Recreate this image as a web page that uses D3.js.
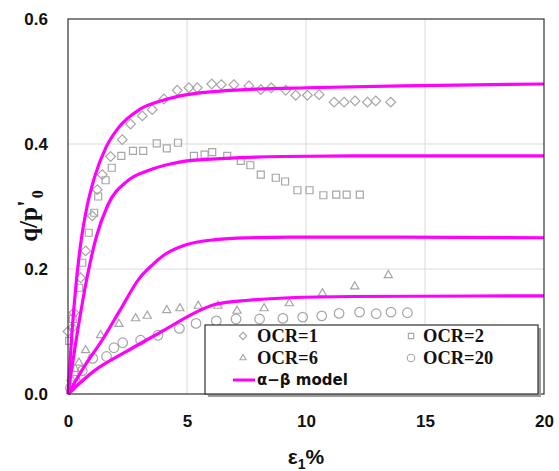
<!DOCTYPE html>
<html>
<head>
<meta charset="utf-8">
<script src="https://cdn.jsdelivr.net/npm/d3@7"></script>
<style>
  html, body { margin: 0; padding: 0; background: #fff; }
  svg { display: block; }
</style>
</head>
<body>
<svg id="chart" width="559" height="471"></svg>
<script>
// Triaxial test data: stress ratio q/p'0 against axial strain (%)
const ocr1 = [[0.0,0.10],[0.18,0.106],[0.25,0.13],[0.53,0.186],[0.74,0.229],[1.02,0.285],[1.23,0.327],[1.44,0.351],[1.79,0.38],[2.28,0.407],[2.63,0.432],[3.12,0.445],[3.54,0.455],[4.03,0.472],[4.59,0.486],[5.08,0.49],[5.43,0.49],[6.04,0.496],[6.44,0.495],[6.97,0.495],[7.6,0.493],[8.1,0.487],[8.54,0.49],[9.15,0.486],[9.57,0.478],[10.06,0.478],[10.55,0.479],[11.18,0.467],[11.6,0.467],[12.06,0.469],[12.58,0.467],[12.93,0.469],[13.56,0.467]];
const ocr2 = [[0.05,0.085],[0.2,0.12],[0.47,0.17],[0.6,0.21],[0.87,0.258],[1.1,0.29],[1.27,0.316],[1.58,0.342],[1.84,0.362],[2.24,0.381],[2.73,0.389],[3.16,0.389],[3.73,0.401],[4.15,0.393],[4.62,0.402],[5.29,0.381],[5.74,0.383],[6.06,0.387],[6.69,0.381],[7.26,0.373],[7.66,0.366],[8.1,0.351],[8.73,0.346],[9.12,0.34],[9.64,0.326],[10.15,0.326],[10.73,0.318],[11.27,0.319],[11.71,0.319],[12.26,0.319]];
const ocr6 = [[0.12,0.025],[0.3,0.04],[0.46,0.05],[0.74,0.07],[1.37,0.094],[2.14,0.112],[2.84,0.121],[3.33,0.125],[4.15,0.134],[4.7,0.137],[5.47,0.141],[6.3,0.141],[7.1,0.133],[8.24,0.137],[9.3,0.145],[10.69,0.161],[12.05,0.172],[13.46,0.19]];
const ocr20 = [[0.1,0.01],[0.3,0.022],[0.6,0.037],[1.04,0.057],[1.62,0.06],[1.93,0.074],[2.3,0.082],[3.05,0.086],[3.78,0.094],[4.68,0.105],[5.38,0.113],[6.23,0.117],[7.06,0.12],[8.05,0.12],[9.03,0.121],[9.86,0.123],[10.66,0.125],[11.39,0.129],[12.25,0.131],[12.95,0.1285],[13.57,0.131],[14.26,0.13]];

// α–β model predictions for each OCR
const model1 = [[0,0],[0.15,0.09],[0.35,0.18],[0.55,0.245],[0.8,0.3],[1.1,0.345],[1.6,0.395],[2.1,0.425],[3.0,0.455],[4.0,0.47],[5.0,0.479],[6.5,0.485],[8,0.488],[10,0.49],[14,0.493],[20,0.496]];
const model2 = [[0,0],[0.4,0.1],[0.82,0.19],[1.18,0.25],[1.67,0.302],[2.5,0.341],[3.4,0.358],[4.3,0.368],[5,0.373],[6.6,0.377],[9,0.38],[12,0.381],[20,0.381]];
const model3 = [[0,0],[0.7,0.045],[1.5,0.09],[2.2,0.135],[3.0,0.185],[3.5,0.205],[4.1,0.224],[4.9,0.238],[6.2,0.247],[7.6,0.25],[9.3,0.251],[14,0.251],[20,0.25]];
const model4 = [[0,0],[1.1,0.037],[2.5,0.069],[4.1,0.1035],[5.2,0.1275],[6.2,0.1435],[7.6,0.15],[9.3,0.154],[12,0.156],[20,0.157]];

const xTicks = [0, 5, 10, 15, 20];
const yTicks = [0.0, 0.2, 0.4, 0.6];
const legendLabels = ["OCR=1", "OCR=2", "OCR=6", "OCR=20", "α−β model"];

const svg = d3.select("#chart");
const plotL = 68, plotT = 19, plotR = 544, plotB = 394;

const x = d3.scaleLinear().domain([0, 20]).range([plotL, plotR]);
const y = d3.scaleLinear().domain([0, 0.6]).range([plotB, plotT]);

const markerColor = "#a6a6a6";
const modelColor = "#ff00ff";

// gridlines
const grid = svg.append("g");
grid.selectAll("line.gx").data(xTicks.slice(1, -1)).join("line")
  .attr("x1", d => x(d)).attr("x2", d => x(d))
  .attr("y1", plotT).attr("y2", plotB)
  .attr("stroke", "#dadada").attr("stroke-width", 1);
grid.selectAll("line.gy").data(yTicks.slice(1, -1)).join("line")
  .attr("x1", plotL).attr("x2", plotR)
  .attr("y1", d => y(d)).attr("y2", d => y(d))
  .attr("stroke", "#dadada").attr("stroke-width", 1);

// axes (ticks as labels only)
const xAxis = d3.axisBottom(x).tickValues(xTicks).tickSize(0).tickPadding(0)
  .tickFormat(d3.format("d"));
const gx = svg.append("g").attr("transform", `translate(0,${plotB})`).call(xAxis);
gx.select(".domain").remove();
gx.selectAll("text").attr("dy", null).attr("y", 33)
  .attr("font-family", "Liberation Sans, Arial, sans-serif")
  .attr("font-weight", "bold").attr("font-size", 17).attr("fill", "#111");

const yAxis = d3.axisLeft(y).tickValues(yTicks).tickSize(0).tickPadding(0)
  .tickFormat(d3.format(".1f"));
const gy = svg.append("g").attr("transform", `translate(${plotL},0)`).call(yAxis);
gy.select(".domain").remove();
gy.selectAll("text").attr("x", -20).attr("dy", "0.35em")
  .attr("font-family", "Liberation Sans, Arial, sans-serif")
  .attr("font-weight", "bold").attr("font-size", 17).attr("fill", "#111");

// markers
const sym = {
  diamond: d3.symbol().type(d3.symbolDiamond2).size(60),
  square: d3.symbol().type(d3.symbolSquare2).size(62),
  triangle: d3.symbol().type(d3.symbolTriangle2).size(48),
  circle: d3.symbol().type(d3.symbolCircle).size(72)
};
function drawMarkers(data, shape) {
  svg.append("g").selectAll("path").data(data).join("path")
    .attr("d", sym[shape])
    .attr("transform", d => `translate(${x(d[0])},${y(d[1])})`)
    .attr("fill", "none").attr("stroke", markerColor).attr("stroke-width", 1.2);
}
drawMarkers(ocr1, "diamond");
drawMarkers(ocr2, "square");
drawMarkers(ocr6, "triangle");
drawMarkers(ocr20, "circle");

// model curves
const line = d3.line().x(d => x(d[0])).y(d => y(d[1])).curve(d3.curveMonotoneX);
[model1, model2, model3, model4].forEach(m => {
  svg.append("path").datum(m).attr("d", line)
    .attr("fill", "none").attr("stroke", modelColor).attr("stroke-width", 3.2)
    .attr("stroke-linejoin", "round");
});

// plot frame
svg.append("rect").attr("x", plotL).attr("y", plotT)
  .attr("width", plotR - plotL).attr("height", plotB - plotT)
  .attr("fill", "none").attr("stroke", "#333").attr("stroke-width", 1.2);

// legend
const lg = svg.append("g");
const lx = 205, ly = 325, lw = 333, lh = 69;
lg.append("rect").attr("x", lx + 3).attr("y", ly + 3).attr("width", lw).attr("height", lh)
  .attr("fill", "#9a9a9a");
lg.append("rect").attr("x", lx).attr("y", ly).attr("width", lw).attr("height", lh)
  .attr("fill", "#fff").attr("stroke", "#333").attr("stroke-width", 1.2);

const legendItems = [
  { label: legendLabels[0], shape: "diamond", mx: 243, my: 336, tx: 257, ty: 342 },
  { label: legendLabels[1], shape: "square", mx: 411, my: 336, tx: 423, ty: 342 },
  { label: legendLabels[2], shape: "triangle", mx: 243, my: 358, tx: 257, ty: 364 },
  { label: legendLabels[3], shape: "circle", mx: 411, my: 358, tx: 423, ty: 364 }
];
const legSym = {
  diamond: d3.symbol().type(d3.symbolDiamond2).size(36),
  square: d3.symbol().type(d3.symbolSquare2).size(36),
  triangle: d3.symbol().type(d3.symbolTriangle2).size(28),
  circle: d3.symbol().type(d3.symbolCircle).size(44)
};
legendItems.forEach(it => {
  lg.append("path").attr("d", legSym[it.shape])
    .attr("transform", `translate(${it.mx},${it.my})`)
    .attr("fill", "none").attr("stroke", markerColor).attr("stroke-width", 1.1);
  lg.append("text").attr("x", it.tx).attr("y", it.ty).text(it.label)
    .attr("font-family", "Liberation Serif, Times New Roman, serif")
    .attr("font-weight", "bold").attr("font-size", 18.5).attr("fill", "#111");
});
lg.append("line").attr("x1", 233).attr("x2", 255).attr("y1", 380).attr("y2", 380)
  .attr("stroke", modelColor).attr("stroke-width", 3);
lg.append("text").attr("x", 257).attr("y", 385).text(legendLabels[4])
  .attr("font-family", "DejaVu Sans, sans-serif")
  .attr("font-weight", "bold").attr("font-size", 15).attr("fill", "#111");

// axis titles
const yt = svg.append("text")
  .attr("transform", "translate(37,216) rotate(-90)")
  .attr("text-anchor", "middle")
  .attr("font-family", "Liberation Serif, Times New Roman, serif")
  .attr("font-weight", "bold").attr("font-size", 25).attr("fill", "#111");
yt.append("tspan").text("q/p");
yt.append("tspan").attr("dy", -2).text("'");
yt.append("tspan").attr("font-size", 16).attr("dy", 8).attr("dx", 2).text("0");

const xt = svg.append("text")
  .attr("x", 306).attr("y", 464)
  .attr("text-anchor", "middle")
  .attr("font-family", "Liberation Sans, Arial, sans-serif")
  .attr("font-weight", "bold").attr("font-size", 21).attr("fill", "#111");
xt.append("tspan").text("ε");
xt.append("tspan").attr("font-size", 14).attr("dy", 5).text("1");
xt.append("tspan").attr("dy", -5).text("%");
</script>
</body>
</html>
